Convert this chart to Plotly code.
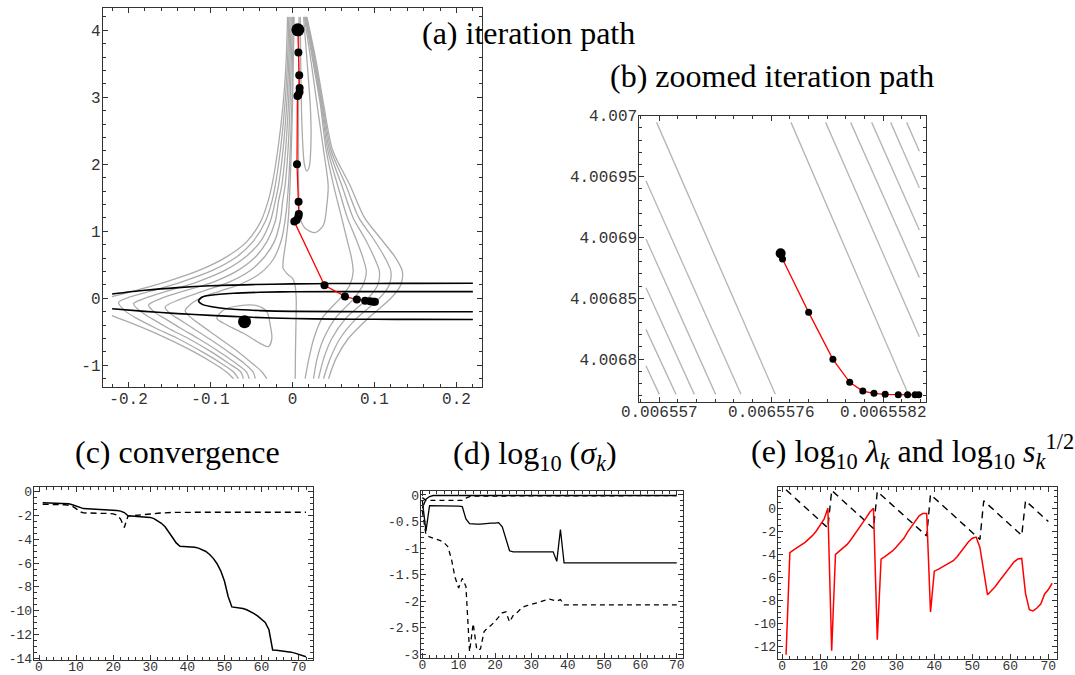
import plotly.graph_objects as go

W, H = 1075, 675

# ================= (a) iteration path =================
a_path_x = [0.00656, 0.0072, 0.0082, 0.0087, 0.0086, 0.0070, 0.0060, 0.0055, 0.0074, 0.0077,
            0.0072, 0.0050, 0.0022, 0.0390, 0.0640, 0.0785, 0.0886, 0.0947, 0.0985, 0.1005]
a_path_y = [4.0069, 3.67, 3.33, 3.14, 3.08, 3.03, 3.02, 2.00, 1.44, 1.26,
            1.22, 1.17, 1.145, 0.195, 0.028, -0.018, -0.035, -0.045, -0.050, -0.052]
a_start_x = [0.00656]
a_start_y = [4.0069]
a_min_x = [-0.0585]
a_min_y = [-0.348]

a_gray_x = [
    [-0.006, -0.0077, -0.0115, -0.018, -0.025, -0.030, -0.039, -0.0557, -0.080, -0.1126, -0.1533, -0.1939, -0.2203],
    [-0.2203, -0.1858, -0.1533, -0.1207, -0.0963, -0.0801, -0.0720],
    [-0.0045, -0.006, -0.0093, -0.0148, -0.021, -0.025, -0.033, -0.048, -0.068, -0.097, -0.134, -0.172, -0.198, -0.2122,
     -0.205, -0.19, -0.166, -0.140, -0.110, -0.087, -0.072, -0.066],
    [-0.003, -0.0045, -0.0071, -0.0116, -0.017, -0.021, -0.027, -0.039, -0.057, -0.082, -0.115, -0.152, -0.178, -0.1939,
     -0.186, -0.172, -0.151, -0.127, -0.099, -0.078, -0.063, -0.060],
    [-0.0015, -0.003, -0.005, -0.0085, -0.013, -0.017, -0.021, -0.031, -0.045, -0.066, -0.095, -0.132, -0.160, -0.1756,
     -0.168, -0.156, -0.136, -0.115, -0.089, -0.069, -0.056, -0.0528],
    [0.0, -0.0015, -0.003, -0.0055, -0.009, -0.012, -0.015, -0.022, -0.034, -0.051, -0.076, -0.108, -0.138, -0.1553,
     -0.149, -0.140, -0.121, -0.102, -0.078, -0.059, -0.048, -0.0455],
    [0.0012, 0.0, -0.0008, -0.0028, -0.0049, -0.0077, -0.0130, -0.0232, -0.0394, -0.0638, -0.0882, -0.1085, -0.1228,
     -0.1309, -0.1228, -0.1004, -0.0720, -0.0516, -0.0374, -0.0313],
    [0.002, 0.001, 0.0, -0.0015, -0.003, -0.005, -0.008, -0.011, -0.0115, -0.006, 0.0, 0.003, 0.0045, 0.0042, 0.0036, 0.0033],
    [-0.0923, -0.0841, -0.0638, -0.0435, -0.0313, -0.0272, -0.0252, -0.0293, -0.0394, -0.0598, -0.0801, -0.0923],
    [0.0095, 0.010, 0.011, 0.0125, 0.0145, 0.0175, 0.0205, 0.0225, 0.022, 0.018, 0.0135],
    [0.008, 0.0075, 0.0073, 0.0073, 0.0075, 0.0093, 0.0154, 0.0276, 0.0378, 0.0419, 0.0435, 0.038, 0.031, 0.023, 0.0145],
    [0.0155, 0.0245, 0.034, 0.041, 0.050, 0.060, 0.066, 0.072, 0.074, 0.070, 0.058, 0.036, 0.026, 0.020, 0.0154],
    [0.0160, 0.0255, 0.035, 0.043, 0.055, 0.067, 0.077, 0.086, 0.090, 0.086, 0.075, 0.052, 0.038, 0.030, 0.0256],
    [0.0165, 0.0265, 0.036, 0.045, 0.060, 0.074, 0.088, 0.100, 0.106, 0.104, 0.092, 0.065, 0.048, 0.038, 0.0317],
    [0.0170, 0.0275, 0.037, 0.047, 0.065, 0.081, 0.098, 0.113, 0.120, 0.118, 0.106, 0.078, 0.058, 0.046, 0.0378],
    [0.0175, 0.0285, 0.038, 0.049, 0.070, 0.088, 0.107, 0.126, 0.134, 0.132, 0.120, 0.092, 0.068, 0.053, 0.0439],
]
a_gray_y = [
    [4.2, 3.56, 2.89, 2.21, 1.69, 1.44, 1.14, 0.846, 0.622, 0.423, 0.249, 0.109, 0.025],
    [-0.259, -0.423, -0.597, -0.796, -0.970, -1.104, -1.2],
    [4.2, 3.56, 2.89, 2.21, 1.69, 1.45, 1.15, 0.85, 0.62, 0.42, 0.25, 0.11, 0.02, -0.06,
     -0.18, -0.3, -0.45, -0.6, -0.8, -0.97, -1.1, -1.2],
    [4.2, 3.56, 2.89, 2.21, 1.69, 1.45, 1.15, 0.85, 0.62, 0.42, 0.25, 0.11, 0.01, -0.08,
     -0.19, -0.3, -0.45, -0.6, -0.8, -0.97, -1.1, -1.2],
    [4.2, 3.56, 2.89, 2.21, 1.69, 1.45, 1.15, 0.85, 0.62, 0.42, 0.25, 0.11, 0.0, -0.10,
     -0.21, -0.3, -0.45, -0.6, -0.8, -0.97, -1.1, -1.2],
    [4.2, 3.56, 2.89, 2.21, 1.69, 1.45, 1.15, 0.85, 0.62, 0.42, 0.25, 0.11, -0.02, -0.129,
     -0.23, -0.3, -0.45, -0.6, -0.8, -0.97, -1.1, -1.2],
    [4.2, 3.56, 2.89, 2.21, 1.69, 1.29, 0.896, 0.587, 0.373, 0.209, 0.109, 0.025, -0.075,
     -0.189, -0.299, -0.498, -0.746, -0.945, -1.095, -1.2],
    [4.2, 3.56, 2.89, 2.21, 1.69, 1.2, 0.85, 0.6, 0.45, 0.36, 0.3, 0.2, 0.0, -0.4, -0.8, -1.2],
    [-0.299, -0.174, -0.109, -0.109, -0.199, -0.398, -0.597, -0.721, -0.672, -0.522, -0.398, -0.299],
    [4.2, 3.5, 2.8, 2.3, 2.0, 1.9, 1.97, 2.3, 2.8, 3.5, 4.2],
    [4.2, 3.5, 2.8, 2.2, 1.69, 1.2, 1.045, 0.98, 1.095, 1.39, 1.69, 2.2, 2.8, 3.5, 4.2],
    [4.2, 3.56, 2.89, 2.21, 1.69, 1.2, 0.9, 0.6, 0.4, 0.2, 0.0, -0.3, -0.6, -0.9, -1.2],
    [4.2, 3.56, 2.89, 2.21, 1.69, 1.2, 0.9, 0.6, 0.4, 0.2, 0.0, -0.3, -0.6, -0.9, -1.2],
    [4.2, 3.56, 2.89, 2.21, 1.69, 1.2, 0.9, 0.6, 0.4, 0.2, 0.0, -0.3, -0.6, -0.9, -1.2],
    [4.2, 3.56, 2.89, 2.21, 1.69, 1.2, 0.9, 0.6, 0.4, 0.2, 0.0, -0.3, -0.6, -0.9, -1.2],
    [4.2, 3.56, 2.89, 2.21, 1.69, 1.2, 0.9, 0.6, 0.4, 0.2, 0.0, -0.3, -0.6, -0.9, -1.2],
]
a_black_x = [
    [-0.22, -0.18, -0.14, -0.10, -0.05, 0.0, 0.05, 0.10, 0.15, 0.22],
    [-0.22, -0.18, -0.14, -0.10, -0.05, 0.0, 0.05, 0.10, 0.15, 0.22],
    [0.22, 0.10, 0.0, -0.04, -0.072, -0.10, -0.11, -0.1146, -0.11, -0.10, -0.072, -0.04, 0.0, 0.10, 0.22],
]
a_black_y = [
    [0.065, 0.12, 0.16, 0.188, 0.205, 0.215, 0.22, 0.222, 0.223, 0.224],
    [-0.155, -0.195, -0.228, -0.255, -0.283, -0.302, -0.31, -0.313, -0.315, -0.316],
    [0.10, 0.10, 0.098, 0.09, 0.075, 0.045, 0.02, -0.04, -0.09, -0.122, -0.164, -0.183, -0.195, -0.20, -0.20],
]

# ================= (b) zoomed iteration path =================
b_path_x = [0.00655765, 0.00655766, 0.00655780, 0.00655793, 0.00655802, 0.00655809,
            0.00655815, 0.00655821, 0.00655828, 0.00655833, 0.00655837, 0.00655839]
b_path_y = [4.00688685, 4.00688220, 4.00683836, 4.00679973, 4.00678082, 4.00677370,
            4.00677178, 4.00677096, 4.00677068, 4.00677068, 4.00677060, 4.00677060]
b_line_x0 = [0.0065569286, 0.0065569286, 0.0065569286, 0.0065569286, 0.0065569286, 0.0065569857,
             0.0065577054, 0.0065578911, 0.0065580250, 0.0065581375, 0.0065582393, 0.0065583250]
b_line_y0 = [4.00679452, 4.00682439, 4.00685863, 4.00689863, 4.00694658, 4.00699452,
             4.00699452, 4.00699452, 4.00699452, 4.00699452, 4.00699452, 4.00699452]
b_line_x1 = [0.0065570000, 0.0065570893, 0.0065571875, 0.0065573018, 0.0065574375, 0.0065576214,
             0.0065583339, 0.0065583929, 0.0065583929, 0.0065583929, 0.0065583929, 0.0065583929]
b_line_y1 = [4.00677096, 4.00677096, 4.00677096, 4.00677096, 4.00677096, 4.00677096,
             4.00677096, 4.00681836, 4.00686712, 4.00690603, 4.00694082, 4.00697069]
b_xtick_vals = [0.006557, 0.0065576, 0.0065582]
b_xtick_text = ["0.006557", "0.0065576", "0.0065582"]
b_ytick_vals = [4.0068, 4.00685, 4.0069, 4.00695, 4.007]
b_ytick_text = ["4.0068", "4.00685", "4.0069", "4.00695", "4.007"]

# ================= (c) convergence =================
c_iter = list(range(1, 73))
c_solid = [-0.92, -0.93, -0.93, -0.94, -0.95, -0.96, -0.98, -1.02, -1.10, -1.20,
           -1.35, -1.42, -1.44, -1.45, -1.45, -1.46, -1.47, -1.48, -1.50, -1.53,
           -1.57, -1.63, -1.75, -2.02, -2.04, -2.04, -2.05, -2.06, -2.10, -2.16,
           -2.26, -2.42, -2.65, -2.95, -3.35, -3.85, -4.30, -4.58, -4.60, -4.61,
           -4.63, -4.67, -4.74, -4.85, -5.02, -5.27, -5.60, -6.05, -6.65, -7.50,
           -8.80, -9.68, -9.72, -9.76, -9.82, -9.92, -10.06, -10.24, -10.45, -10.70,
           -10.98, -11.60, -13.30, -13.32, -13.35, -13.38, -13.42, -13.48, -13.56, -13.66,
           -13.76, -13.86]
c_dashed = [-1.05, -1.05, -1.06, -1.06, -1.07, -1.08, -1.10, -1.14, -1.22, -1.42,
            -1.68, -1.78, -1.80, -1.80, -1.81, -1.81, -1.82, -1.82, -1.83, -1.86,
            -1.96, -2.30, -3.00, -2.05, -2.02, -2.00, -1.98, -1.96, -1.93, -1.89,
            -1.85, -1.81, -1.78, -1.76, -1.75, -1.74, -1.74, -1.73, -1.73, -1.73,
            -1.73, -1.73, -1.73, -1.73, -1.73, -1.73, -1.73, -1.73, -1.73, -1.73,
            -1.73, -1.73, -1.73, -1.73, -1.73, -1.73, -1.73, -1.73, -1.73, -1.73,
            -1.73, -1.73, -1.73, -1.73, -1.73, -1.73, -1.73, -1.73, -1.73, -1.73,
            -1.73, -1.73]

# ================= (d) log10(sigma_k) =================
d_iter = list(range(0, 71))
d_solid_top = [-0.25, -0.08, -0.03, -0.01] + [-0.01] * 67
d_solid_mid = [-0.10, -0.68, -0.20, -0.20, -0.20, -0.20, -0.20, -0.20, -0.21, -0.21,
               -0.21, -0.22, -0.45, -0.54, -0.55, -0.55, -0.55, -0.54, -0.54, -0.53,
               -0.53, -0.52, -0.60, -0.85, -1.05, -1.07, -1.07, -1.07, -1.07, -1.07,
               -1.07, -1.07, -1.07, -1.07, -1.07, -1.07, -1.07, -1.25, -0.65, -1.28] + [-1.28] * 31
d_dashed_top = [-0.05, -0.10, -0.10, -0.10, -0.10, -0.10, -0.10, -0.10, -0.10, -0.10,
                -0.10, -0.10, -0.06, -0.03, -0.02, -0.02, -0.015, -0.015, -0.015, -0.015] + [-0.012] * 51
d_dashed_low = [-0.30, -0.75, -0.79, -0.81, -0.83, -0.86, -0.90, -0.97, -1.20, -1.55,
                -1.75, -1.57, -1.72, -2.95, -2.42, -2.92, -2.90, -2.57, -2.50, -2.45,
                -2.38, -2.30, -2.22, -2.20, -2.39, -2.27, -2.22, -2.15, -2.10, -2.08,
                -2.06, -2.05, -2.03, -2.00, -1.98, -1.96, -1.98, -2.00, -1.97, -2.07] + [-2.07] * 31

# ================= (e) log10 lambda_k and log10 s_k^(1/2) =================
e_iter_red = list(range(1, 72))
e_red = [-12.70, -3.85, -3.60, -3.40, -3.20, -2.95, -2.65, -2.35, -1.95, -1.50,
         -0.95, 0.00, -12.35, -4.00, -3.70, -3.45, -3.15, -2.75, -2.30, -1.80,
         -1.30, -0.85, -0.35, 0.00, -11.40, -4.42, -4.20, -3.95, -3.70, -3.35,
         -3.00, -2.60, -2.05, -1.60, -1.05, -0.65, -0.45, -0.45, -9.00, -5.45,
         -5.30, -5.10, -4.90, -4.75, -4.55, -4.20, -3.75, -3.30, -2.90, -2.60,
         -2.50, -3.40, -5.60, -7.50, -7.15, -6.80, -6.35, -5.90, -5.45, -5.00,
         -4.65, -4.40, -4.35, -7.40, -8.80, -8.90, -8.65, -8.30, -7.45, -7.05,
         -6.50]
e_iter_dash = list(range(1, 71))
e_dash = [1.60, 1.30, 1.00, 0.70, 0.40, 0.10, -0.20, -0.50, -0.80, -1.10,
          -1.40, -1.70, 1.55, 1.25, 0.95, 0.65, 0.35, 0.05, -0.25, -0.55,
          -0.85, -1.15, -1.45, -1.75, 1.45, 1.15, 0.86, 0.56, 0.27, -0.03,
          -0.33, -0.62, -0.92, -1.21, -1.51, -1.81, -2.10, -2.40, 1.20, 0.90,
          0.60, 0.30, 0.00, -0.30, -0.60, -0.90, -1.20, -1.50, -1.80, -2.10,
          -2.40, -2.70, 0.65, 0.35, 0.05, -0.25, -0.55, -0.85, -1.15, -1.45,
          -1.75, -2.05, -2.35, 0.65, 0.35, 0.05, -0.25, -0.55, -0.85, -1.15]

# ================= figure =================
fig = go.Figure()


def joined(xs_list, ys_list):
    X, Y = [], []
    for xs, ys in zip(xs_list, ys_list):
        X += list(xs) + [None]
        Y += list(ys) + [None]
    return X, Y


gx, gy = joined(a_gray_x, a_gray_y)
fig.add_trace(go.Scatter(x=gx, y=gy, mode="lines", line=dict(color="#ababab", width=1.3, shape="spline", smoothing=0.8),
                         xaxis="x", yaxis="y", hoverinfo="skip"))
bx, by = joined(a_black_x, a_black_y)
fig.add_trace(go.Scatter(x=bx, y=by, mode="lines", line=dict(color="black", width=1.6, shape="spline", smoothing=0.8),
                         xaxis="x", yaxis="y", hoverinfo="skip"))
fig.add_trace(go.Scatter(x=a_path_x, y=a_path_y, mode="lines+markers", line=dict(color="red", width=1.3),
                         marker=dict(color="black", size=8), xaxis="x", yaxis="y"))
fig.add_trace(go.Scatter(x=a_start_x + a_min_x, y=a_start_y + a_min_y, mode="markers",
                         marker=dict(color="black", size=13), xaxis="x", yaxis="y"))

lx, ly = joined([[a, b] for a, b in zip(b_line_x0, b_line_x1)], [[a, b] for a, b in zip(b_line_y0, b_line_y1)])
fig.add_trace(go.Scatter(x=lx, y=ly, mode="lines", line=dict(color="#b4b4b4", width=1.3), xaxis="x2", yaxis="y2"))
fig.add_trace(go.Scatter(x=b_path_x, y=b_path_y, mode="lines+markers", line=dict(color="red", width=1.3),
                         marker=dict(color="black", size=7), xaxis="x2", yaxis="y2"))
fig.add_trace(go.Scatter(x=b_path_x[:1], y=b_path_y[:1], mode="markers", marker=dict(color="black", size=10),
                         xaxis="x2", yaxis="y2"))

fig.add_trace(go.Scatter(x=c_iter, y=c_dashed, mode="lines", line=dict(color="black", width=1.4, dash="6px,4px"),
                         xaxis="x3", yaxis="y3"))
fig.add_trace(go.Scatter(x=c_iter, y=c_solid, mode="lines", line=dict(color="black", width=1.5),
                         xaxis="x3", yaxis="y3"))

for ser, dash in ((d_solid_top, "solid"), (d_solid_mid, "solid"), (d_dashed_top, "5px,4px"), (d_dashed_low, "5px,4px")):
    fig.add_trace(go.Scatter(x=d_iter, y=ser, mode="lines", line=dict(color="black", width=1.3, dash=dash),
                             xaxis="x4", yaxis="y4"))

fig.add_trace(go.Scatter(x=e_iter_dash, y=e_dash, mode="lines", line=dict(color="black", width=1.4, dash="7px,5px"),
                         xaxis="x5", yaxis="y5"))
fig.add_trace(go.Scatter(x=e_iter_red, y=e_red, mode="lines", line=dict(color="red", width=1.5),
                         xaxis="x5", yaxis="y5"))


def dom(p0, p1, q0, q1):
    return [p0 / W, p1 / W], [1 - q1 / H, 1 - q0 / H]


TICKFONT = dict(family="Liberation Mono", size=16, color="#333")
TICKFONT_S = dict(family="Liberation Mono", size=13, color="#333")


def ax(domain, rng, anchor, font, minor_dtick, minor_tick0=0, tickvals=None, ticktext=None, dtick=None, tick0=0,
       standoff=0):
    d = dict(domain=domain, range=rng, anchor=anchor, showgrid=False, zeroline=False, automargin=False,
             showline=True, linecolor="#333", linewidth=1, mirror="ticks",
             ticks="inside", ticklen=5, tickwidth=1, tickcolor="#333", tickfont=font,
             ticklabelstandoff=standoff,
             minor=dict(ticks="inside", ticklen=3, tickwidth=1, tickcolor="#333",
                        dtick=minor_dtick, tick0=minor_tick0, showgrid=False))
    if tickvals is not None:
        d.update(tickmode="array", tickvals=tickvals, ticktext=ticktext)
    else:
        d.update(tickmode="linear", dtick=dtick, tick0=tick0)
    return d


xa, ya = dom(102.7, 482.3, 8.3, 387.3)
xb, yb = dom(639.3, 926.0, 115.7, 401.7)
xc, yc = dom(33.7, 312.7, 487.3, 660.0)
xd, yd = dom(420.7, 683.3, 491.0, 658.3)
xe, ye = dom(777.7, 1056.7, 487.3, 659.0)

fig.update_layout(
    width=W, height=H, margin=dict(l=0, r=0, t=0, b=0, autoexpand=False),
    paper_bgcolor="white", plot_bgcolor="white", showlegend=False,
    xaxis=ax(xa, [-0.2315, 0.2315], "y", TICKFONT, 0.02, 0,
             tickvals=[-0.2, -0.1, 0, 0.1, 0.2], ticktext=["-0.2", "-0.1", "0", "0.1", "0.2"], standoff=-4),
    yaxis=ax(ya, [-1.328, 4.328], "x", TICKFONT, 0.2, 0,
             tickvals=[-1, 0, 1, 2, 3, 4], ticktext=["-1", "0", "1", "2", "3", "4"], standoff=-2),
    xaxis2=ax(xb, [0.0065568929, 0.0065584286], "y2", TICKFONT, 1e-7, 0.006557,
              tickvals=b_xtick_vals, ticktext=b_xtick_text, standoff=-5),
    yaxis2=ax(yb, [4.00676493, 4.007], "x2", TICKFONT, 0.00001, 4.0068,
              tickvals=b_ytick_vals, ticktext=b_ytick_text, standoff=-2),
    xaxis3=ax(xc, [-1.43, 73.8], "y3", TICKFONT_S, 2, 0, dtick=10, standoff=-6),
    yaxis3=ax(yc, [-14.14, 0.37], "x3", TICKFONT_S, 0.5, 0,
              tickvals=[0, -2, -4, -6, -8, -10, -12, -14],
              ticktext=["0", "-2", "-4", "-6", "-8", "-10", "-12", "-14"], standoff=-2),
    xaxis4=ax(xd, [-0.44, 71.8], "y4", TICKFONT_S, 2, 0, dtick=10, standoff=-6),
    yaxis4=ax(yd, [-3.075, 0.075], "x4", TICKFONT_S, 0.1, 0,
              tickvals=[0, -0.5, -1, -1.5, -2, -2.5, -3],
              ticktext=["0", "-0.5", "-1", "-1.5", "-2", "-2.5", "-3"], standoff=-2),
    xaxis5=ax(xe, [-1.2, 72.2], "y5", TICKFONT_S, 2, 0, dtick=10, standoff=-6),
    yaxis5=ax(ye, [-13.07, 1.82], "x5", TICKFONT_S, 0.5, 0,
              tickvals=[0, -2, -4, -6, -8, -10, -12],
              ticktext=["0", "-2", "-4", "-6", "-8", "-10", "-12"], standoff=-2),
)

TFONT = dict(family="Liberation Serif", size=32, color="black")
titles = [
    ("(a) iteration path", 528, 33),
    ("(b) zoomed iteration path", 772, 76),
    ("(c) convergence", 177, 452),
    ("(d) log<sub>10</sub> (<i>σ<sub>k</sub></i>)", 535, 455),
    ("(e) log<sub>10</sub> <i>λ<sub>k</sub></i> and log<sub>10</sub> <i>s<sub>k</sub></i><sup>1/2</sup>", 912, 452),
]
for txt, px, py in titles:
    fig.add_annotation(text=txt, x=px / W, y=1 - py / H, xref="paper", yref="paper",
                       xanchor="center", yanchor="middle", showarrow=False, font=TFONT)

fig.write_html("out.html")
